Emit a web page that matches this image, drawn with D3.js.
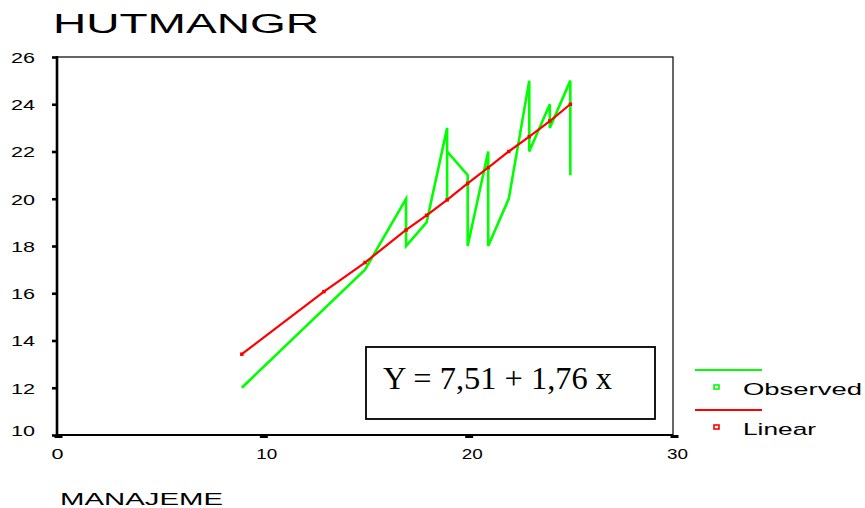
<!DOCTYPE html>
<html>
<head>
<meta charset="utf-8">
<script src="https://cdn.jsdelivr.net/npm/d3@7"></script>
<style>
  body { margin: 0; background: #fff; }
  svg text { fill: #000; }
</style>
</head>
<body>
<div id="chart"></div>
<script>
const width = 865, height = 508;
const sans = "'Liberation Sans', Arial, sans-serif";

// observed cases, in the order SPSS joins them
const obsX = [9, 15, 17, 17, 18, 19, 19, 19, 20, 20, 21, 21, 22, 23, 23, 24, 24, 25, 25];
const obsY = [12, 17, 20, 18, 19, 23, 20, 22, 21, 18, 22, 18, 20, 25, 22, 24, 23, 25, 21];

// fitted (linear) values
const fitX = [9, 13, 15, 17, 18, 19, 20, 21, 22, 23, 24, 25];
const fitY = [13.42, 16.07, 17.3, 18.68, 19.3, 19.95, 20.65, 21.32, 22.0, 22.63, 23.29, 24.0];

const xTicks = [0, 10, 20, 30];
const yTicks = [10, 12, 14, 16, 18, 20, 22, 24, 26];

const plotLeft = 57, plotRight = 673, plotTop = 57, plotBottom = 435;

const svg = d3.select("#chart").append("svg")
    .attr("width", width)
    .attr("height", height)
    .style("font-family", sans);

const x = d3.scaleLinear().domain([0, 30]).range([plotLeft, plotRight]);
const y = d3.scaleLinear().domain([10, 26]).range([plotBottom, plotTop]);

// title
svg.append("text")
    .attr("x", 53).attr("y", 33)
    .attr("font-size", 27)
    .attr("textLength", 266).attr("lengthAdjust", "spacingAndGlyphs")
    .text("HUTMANGR");

// frame
svg.append("rect")
    .attr("x", plotLeft).attr("y", plotTop)
    .attr("width", plotRight - plotLeft).attr("height", plotBottom - plotTop)
    .attr("fill", "none").attr("stroke", "#000").attr("stroke-width", 1.2);

// y axis
const yAxis = svg.append("g")
    .attr("transform", `translate(${plotLeft},0)`)
    .call(d3.axisLeft(y).tickValues(yTicks).tickSize(5).tickPadding(17));
yAxis.select(".domain").remove();
yAxis.attr("font-family", null);
yAxis.selectAll(".tick line").attr("stroke-width", 2.6);
yAxis.selectAll(".tick text")
    .attr("font-size", 15)
    .attr("textLength", 24).attr("lengthAdjust", "spacingAndGlyphs")
    .attr("dy", d => d === 10 ? "0.05em" : "0.36em");

svg.append("line")
    .attr("x1", plotLeft).attr("x2", plotLeft)
    .attr("y1", plotTop - 1).attr("y2", plotBottom + 1)
    .attr("stroke", "#000").attr("stroke-width", 2.6);

// x axis
const xAxis = svg.append("g")
    .attr("transform", `translate(0,${plotBottom})`)
    .call(d3.axisBottom(x).tickValues(xTicks).tickSize(3).tickPadding(10));
xAxis.select(".domain").remove();
xAxis.attr("font-family", null);
xAxis.selectAll(".tick line")
    .attr("stroke-width", 8)
    .attr("transform", "translate(1,0)");
xAxis.selectAll(".tick text")
    .attr("font-size", 15)
    .attr("dx", d => d === 0 ? 0 : 4)
    .attr("textLength", d => String(d).length > 1 ? 21 : 12)
    .attr("lengthAdjust", "spacingAndGlyphs");

svg.append("line")
    .attr("x1", plotLeft - 1).attr("x2", plotRight)
    .attr("y1", plotBottom).attr("y2", plotBottom)
    .attr("stroke", "#000").attr("stroke-width", 2);

// x label
svg.append("text")
    .attr("x", 60).attr("y", 505)
    .attr("font-size", 17)
    .attr("textLength", 163).attr("lengthAdjust", "spacingAndGlyphs")
    .text("MANAJEME");

// observed line
const obs = obsX.map((v, i) => [v, obsY[i]]);
const fit = fitX.map((v, i) => [v, fitY[i]]);
const line = d3.line().x(d => x(d[0])).y(d => y(d[1]));

svg.append("path")
    .datum(obs)
    .attr("d", line)
    .attr("fill", "none")
    .attr("stroke", "#00ff00")
    .attr("stroke-width", 2.6)
    .attr("stroke-linejoin", "miter");

svg.append("path")
    .datum(fit)
    .attr("d", line)
    .attr("fill", "none")
    .attr("stroke", "#ff0000")
    .attr("stroke-width", 2.2);

svg.selectAll(".fitdot")
    .data(fit)
    .join("rect")
    .attr("class", "fitdot")
    .attr("x", d => x(d[0]) - 1.75).attr("y", d => y(d[1]) - 1.75)
    .attr("width", 3.5).attr("height", 3.5)
    .attr("fill", "#ff0000");

// equation box
svg.append("rect")
    .attr("x", 366).attr("y", 347)
    .attr("width", 289).attr("height", 72)
    .attr("fill", "#fff").attr("stroke", "#000").attr("stroke-width", 1.8);

svg.append("text")
    .attr("x", 383).attr("y", 389)
    .style("font-family", "'Liberation Serif', 'Times New Roman', serif")
    .attr("font-size", 31)
    .attr("textLength", 229).attr("lengthAdjust", "spacingAndGlyphs")
    .text("Y = 7,51 + 1,76 x");

// legend
const legendItems = [
    { name: "Observed", color: "#00ff00", y: 370, len: 119 },
    { name: "Linear", color: "#ff0000", y: 410, len: 73 }
];
const lg = svg.selectAll(".legend")
    .data(legendItems)
    .join("g")
    .attr("class", "legend");
lg.append("line")
    .attr("x1", 695).attr("x2", 762)
    .attr("y1", d => d.y).attr("y2", d => d.y)
    .attr("stroke", d => d.color).attr("stroke-width", 2);
lg.append("rect")
    .attr("x", 714).attr("y", d => d.y + 15)
    .attr("width", 5).attr("height", 4)
    .attr("fill", "#fff").attr("stroke", d => d.color).attr("stroke-width", 1.6);
lg.append("text")
    .attr("x", 743).attr("y", d => d.y + 25)
    .attr("font-size", 17)
    .attr("textLength", d => d.len).attr("lengthAdjust", "spacingAndGlyphs")
    .text(d => d.name);
</script>
</body>
</html>
